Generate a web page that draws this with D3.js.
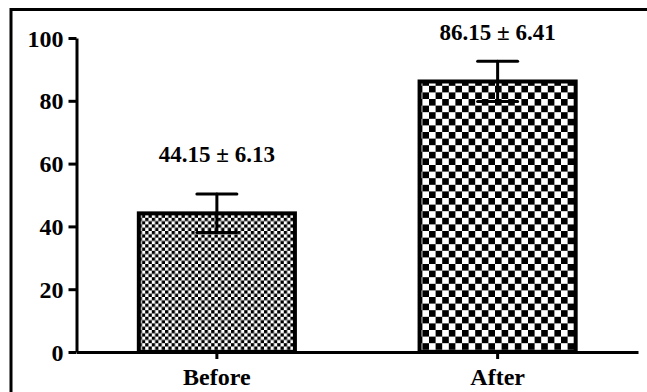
<!DOCTYPE html>
<html>
<head>
<meta charset="utf-8">
<script src="https://cdn.jsdelivr.net/npm/d3@7"></script>
<style>
  html, body { margin: 0; padding: 0; background: #fff; }
  svg { display: block; }
  text { font-family: "Liberation Serif", "Times New Roman", serif; font-weight: bold; fill: #000; }
</style>
</head>
<body>
<svg id="chart" width="647" height="392"></svg>
<script>
// Score before and after (mean ± SD)
const categories = ["Before", "After"];
const means = [44.15, 86.15];
const sds = [6.13, 6.41];
const yTicks = [0, 20, 40, 60, 80, 100];

const W = 647, H = 392;
const FONT = "'Liberation Serif', 'Times New Roman', serif";
const svg = d3.select("#chart");

// outer frame (top and left edges)
svg.append("path")
  .attr("d", `M11,${H} L11,9.5 L${W},9.5`)
  .attr("fill", "none").attr("stroke", "#000").attr("stroke-width", 3);

// checkerboard fills, fine and coarse
const defs = svg.append("defs");
const cellSizes = [3.3, 6.6];
cellSizes.forEach((c, i) => {
  const p = defs.append("pattern")
    .attr("id", "chk" + i)
    .attr("patternUnits", "userSpaceOnUse")
    .attr("width", c * 2).attr("height", c * 2);
  p.append("rect").attr("width", c * 2).attr("height", c * 2).attr("fill", "#fff");
  p.append("rect").attr("x", 0).attr("y", 0).attr("width", c).attr("height", c).attr("fill", "#000");
  p.append("rect").attr("x", c).attr("y", c).attr("width", c).attr("height", c).attr("fill", "#000");
});

const x = d3.scaleBand()
  .domain(categories)
  .range([76.5, 638])
  .paddingInner(0.444)
  .paddingOuter(0.222);

const y = d3.scaleLinear().domain([0, 100]).range([352, 38]);

// bars
const g = svg.append("g");
g.selectAll("rect.bar")
  .data(categories)
  .join("rect")
  .attr("class", "bar")
  .attr("x", d => x(d))
  .attr("width", x.bandwidth())
  .attr("y", (d, i) => y(means[i]))
  .attr("height", (d, i) => y(0) - y(means[i]))
  .attr("fill", (d, i) => `url(#chk${i})`)
  .attr("stroke", "#000")
  .attr("stroke-width", 4);

// error bars
const capW = 40;
categories.forEach((c, i) => {
  const cx = x(c) + x.bandwidth() / 2;
  const hi = y(means[i] + sds[i]), lo = y(means[i] - sds[i]);
  const eb = g.append("g").attr("stroke", "#000").attr("stroke-width", 3).attr("stroke-linecap", "round");
  eb.append("line").attr("x1", cx).attr("x2", cx).attr("y1", hi).attr("y2", lo);
  eb.append("line").attr("x1", cx - capW / 2).attr("x2", cx + capW / 2).attr("y1", hi).attr("y2", hi);
  eb.append("line").attr("x1", cx - capW / 2).attr("x2", cx + capW / 2).attr("y1", lo).attr("y2", lo);

  // value label above the error bar, kept inside the frame
  const ty = Math.max(40, hi - 32);
  svg.append("text")
    .attr("x", cx).attr("y", ty)
    .attr("text-anchor", "middle")
    .attr("font-family", FONT).attr("font-weight", "bold")
    .attr("font-size", 23)
    .text(`${means[i].toFixed(2)} \u00B1 ${sds[i].toFixed(2)}`);
});

// y axis
const yAxis = svg.append("g")
  .attr("transform", "translate(76.5,0)")
  .attr("font-family", FONT)
  .call(d3.axisLeft(y).tickValues(yTicks).tickSize(8).tickPadding(5).tickSizeOuter(0));
yAxis.attr("font-family", FONT);
yAxis.select(".domain").attr("stroke-width", 3);
yAxis.selectAll(".tick line").attr("stroke-width", 3);
yAxis.selectAll(".tick text")
  .attr("font-size", 24).attr("font-weight", "bold").attr("fill", "#000")
  .attr("dy", "0.34em");

// x axis
const xAxis = svg.append("g")
  .attr("transform", "translate(0,352)")
  .call(d3.axisBottom(x).tickSize(7).tickPadding(9).tickSizeOuter(0));
xAxis.attr("font-family", FONT);
xAxis.select(".domain").attr("stroke-width", 3);
xAxis.selectAll(".tick line").attr("stroke-width", 3);
xAxis.selectAll(".tick text")
  .attr("font-size", 24).attr("font-weight", "bold").attr("fill", "#000");
</script>
</body>
</html>
